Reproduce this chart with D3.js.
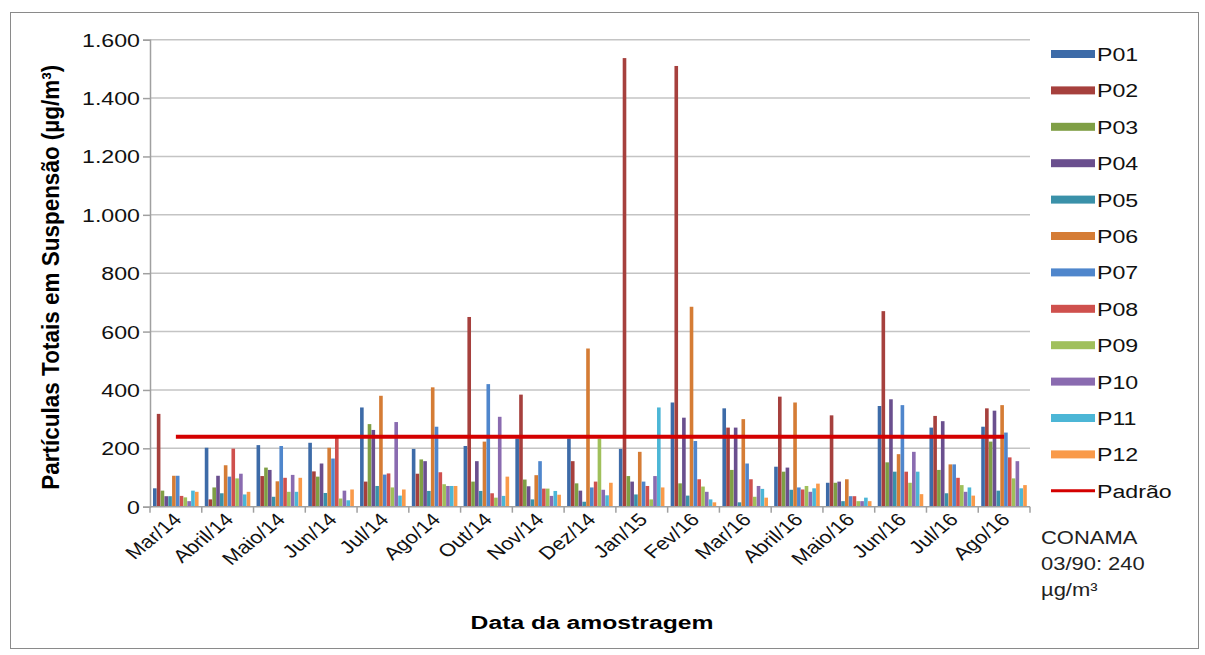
<!DOCTYPE html>
<html><head><meta charset="utf-8">
<script src="https://cdn.jsdelivr.net/npm/d3@7"></script>
<style>body{margin:0;background:#fff}svg{display:block;font-family:"Liberation Sans",Arial,sans-serif}</style>
</head><body><svg id="c" width="1205" height="655"></svg>
<script>
const categories = ["Mar/14","Abril/14","Maio/14","Jun/14","Jul/14","Ago/14","Out/14","Nov/14","Dez/14","Jan/15","Fev/16","Mar/16","Abril/16","Maio/16","Jun/16","Jul/16","Ago/16"];
const seriesNames = ["P01","P02","P03","P04","P05","P06","P07","P08","P09","P10","P11","P12"];
const seriesColors = ["#3d6ba8","#a6403d","#7f9f45","#6a4f8e","#3a91a9","#d57c35","#4f86cc","#cf504d","#a0c05b","#8a6bb0","#4cb6d6","#f99a4a"];
const P01 = [63,202,211,219,340,198,208,234,234,198,357,337,137,82,345,271,274];
const P02 = [318,25,105,121,86,113,650,384,156,1537,1510,271,377,313,670,311,337];
const P03 = [55,66,134,103,283,162,86,93,80,105,80,126,120,82,152,126,223];
const P04 = [36,106,126,148,263,156,156,70,55,86,305,271,134,86,368,293,329];
const P05 = [36,46,34,47,71,54,54,25,17,42,38,15,58,19,120,46,55];
const P06 = [106,142,87,202,380,409,223,108,542,188,685,300,357,94,180,145,348];
const P07 = [106,103,208,165,110,274,420,156,66,86,225,148,66,36,348,145,254];
const P08 = [37,199,99,236,114,118,46,62,86,71,94,94,59,36,120,99,169];
const P09 = [32,97,51,28,66,77,31,62,233,25,69,34,71,19,82,74,97];
const P10 = [19,113,109,55,290,71,308,37,58,105,51,71,51,19,188,51,156];
const P11 = [55,42,51,22,38,71,37,54,39,340,25,61,63,31,120,66,63];
const P12 = [51,51,99,59,59,71,103,41,82,66,15,31,79,19,43,38,74];
const seriesValues = [P01,P02,P03,P04,P05,P06,P07,P08,P09,P10,P11,P12];
const padrao = 240;
const yTicks = [0,200,400,600,800,1000,1200,1400,1600];
const yTickLabels = ["0","200","400","600","800","1.000","1.200","1.400","1.600"];
const yTitle = "Partículas Totais em Suspensão (µg/m³)";
const xTitle = "Data da amostragem";
const padraoName = "Padrão";
const noteLines = ["CONAMA","03/90: 240","µg/m³"];

const SX = 1.22; // horizontal stretch of the reference text
const svg = d3.select("#c");
svg.append("rect").attr("x",10.5).attr("y",12.5).attr("width",1188).attr("height",636)
  .attr("fill","#fff").attr("stroke","#8a8a8a").attr("stroke-width",1);

const L = 150, R = 1030, T = 39.7, B = 506.7;
const x = d3.scaleBand().domain(categories).range([L,R]).padding(0);
const xi = d3.scaleBand().domain(seriesNames).range([3, x.bandwidth()-3]).padding(0);
const y = d3.scaleLinear().domain([0,1600]).range([B,T]);

// gridlines
svg.append("g").selectAll("line").data(yTicks.slice(1)).join("line")
  .attr("x1",L).attr("x2",R).attr("y1",d=>y(d)).attr("y2",d=>y(d))
  .attr("stroke","#c4c4c4").attr("stroke-width",1.5);

// y axis
const ya = svg.append("g").attr("transform",`translate(${L},0)`)
  .call(d3.axisLeft(y).tickValues(yTicks).tickFormat("").tickSize(7));
ya.select(".domain").attr("stroke","#a0a0a0").attr("stroke-width",1.5);
ya.selectAll(".tick line").attr("stroke","#a0a0a0").attr("stroke-width",1.5);
svg.append("g").selectAll("text").data(yTicks).join("text")
  .attr("transform",d=>`translate(140,${y(d)+7}) scale(${SX},1)`)
  .attr("text-anchor","end").attr("font-size",19).attr("fill","#111")
  .text((d,i)=>yTickLabels[i]);

// bars
const gBars = svg.append("g");
seriesNames.forEach((s,si)=>{
  gBars.append("g").attr("fill",seriesColors[si]).selectAll("rect").data(seriesValues[si]).join("rect")
    .attr("x",(d,i)=>x(categories[i])+xi(s))
    .attr("width",xi.bandwidth()-0.2)
    .attr("y",d=>y(d)).attr("height",d=>B-y(d));
});

// x axis
const xa = svg.append("g").attr("transform",`translate(0,${B})`);
xa.append("line").attr("x1",L).attr("x2",R).attr("stroke","#a0a0a0").attr("stroke-width",1.5);
xa.selectAll("line.t").data(categories.concat(["_end"])).join("line").attr("class","t")
  .attr("x1",(d,i)=>L+i*x.step()).attr("x2",(d,i)=>L+i*x.step())
  .attr("y1",0).attr("y2",6).attr("stroke","#a0a0a0").attr("stroke-width",1.5);
xa.selectAll("text").data(categories).join("text")
  .attr("transform",d=>`translate(${x(d)+x.bandwidth()/2+7},${14}) scale(${SX},1) rotate(-45)`)
  .attr("text-anchor","end").attr("font-size",18).attr("fill","#111")
  .text(d=>d);

// padrão line
const line = d3.line().x(d=>x(d)+x.bandwidth()/2).y(()=>y(padrao));
svg.append("path").datum(categories).attr("d",line).attr("fill","none")
  .attr("stroke","#d40000").attr("stroke-width",4);

// titles
svg.append("text").attr("transform",`translate(59,${(T+B)/2+4}) scale(1.1,1) rotate(-90)`)
  .attr("text-anchor","middle").attr("font-size",22.5).attr("font-weight","bold").text(yTitle);
svg.append("text").attr("transform",`translate(592,629) scale(1.3,1)`).attr("text-anchor","middle")
  .attr("font-size",19).attr("font-weight","bold").text(xTitle);

// legend
const lg = svg.append("g");
const legItems = seriesNames.map((s,i)=>({name:s,color:seriesColors[i],type:"bar"})).concat([{name:padraoName,color:"#d40000",type:"line"}]);
const ly0 = 54, lstep = 36.4;
legItems.forEach((d,i)=>{
  const yy = ly0 + i*lstep;
  if(d.type==="bar") lg.append("rect").attr("x",1051).attr("y",yy-4).attr("width",44).attr("height",8).attr("fill",d.color);
  else lg.append("line").attr("x1",1051).attr("x2",1095).attr("y1",yy).attr("y2",yy).attr("stroke",d.color).attr("stroke-width",3);
  lg.append("text").attr("transform",`translate(1097,${yy+7}) scale(${SX},1)`).attr("font-size",19).attr("fill","#111").text(d.name);
});
noteLines.forEach((t,i)=>{
  svg.append("text").attr("transform",`translate(1041,${544+i*26}) scale(${SX},1)`).attr("font-size",18).attr("fill","#222").text(t);
});
</script></body></html>
